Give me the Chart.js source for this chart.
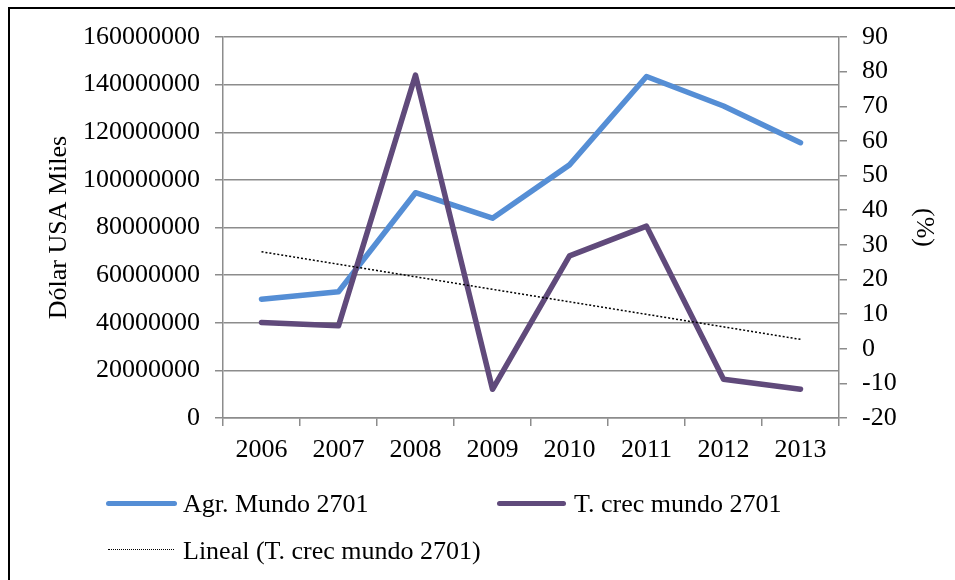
<!DOCTYPE html>
<html>
<head>
<meta charset="utf-8">
<script src="https://cdn.jsdelivr.net/npm/chart.js@4.4.0/dist/chart.umd.min.js"></script>
<style>
  html, body { margin: 0; padding: 0; background: #fff; overflow: hidden; }
  #marco { position: absolute; left: 8px; top: 7px; width: 980px; height: 620px; border: 2px solid #000; }
  #lienzo { position: absolute; left: 0; top: 0; }
  .leyenda { position: absolute; font-family: 'Liberation Serif', 'Times New Roman', serif; font-size: 26px; line-height: 30px; color: #000; white-space: nowrap; }
  .linea { position: absolute; height: 5px; border-radius: 3px; }
  .punteada { position: absolute; height: 0; border-top: 1.5px dotted #000; }
</style>
</head>
<body>
<div id="marco"></div>
<canvas id="lienzo" width="955" height="580"></canvas>
<div class="linea" style="left:106px; top:501px; width:71px; background:#558ed5;"></div>
<div class="leyenda" style="left:183px; top:489px;">Agr. Mundo 2701</div>
<div class="linea" style="left:497px; top:501px; width:69px; background:#604a7b;"></div>
<div class="leyenda" style="left:574px; top:489px;">T. crec mundo 2701</div>
<div class="punteada" style="left:108px; top:549px; width:66px;"></div>
<div class="leyenda" style="left:183px; top:536px;">Lineal (T. crec mundo 2701)</div>
<script>
// años del eje x
const anios = ['2006', '2007', '2008', '2009', '2010', '2011', '2012', '2013'];
// Agr. Mundo 2701 (dólar USA miles)
const agrMundo = [49900000, 53000000, 94600000, 83900000, 106300000, 143400000, 131000000, 115600000];
// T. crec mundo 2701 (%)
const tCrec = [7.6, 6.6, 79.0, -11.7, 26.8, 35.4, -8.8, -11.7];
// línea de tendencia: solo los extremos
const tendencia = [28.0, null, null, null, null, null, null, 2.7];

const fuente = { family: "'Liberation Serif', 'Times New Roman', serif", size: 26 };
const gris = '#8c8c8c';

document.addEventListener('DOMContentLoaded', () => {
    const ctx = document.getElementById('lienzo').getContext('2d');
    const grafico = new Chart(ctx, {
        type: 'line',
        data: {
            labels: anios,
            datasets: [
                {
                    label: 'Lineal (T. crec mundo 2701)',
                    data: tendencia,
                    yAxisID: 'y1',
                    borderColor: '#000',
                    borderWidth: 1.5,
                    borderDash: [2, 2],
                    pointRadius: 0,
                    spanGaps: true,
                    order: 0
                },
                {
                    label: 'T. crec mundo 2701',
                    data: tCrec,
                    yAxisID: 'y1',
                    borderColor: '#604a7b',
                    borderWidth: 5.5,
                    borderJoinStyle: 'round',
                    borderCapStyle: 'round',
                    pointRadius: 0,
                    tension: 0,
                    order: 1
                },
                {
                    label: 'Agr. Mundo 2701',
                    data: agrMundo,
                    yAxisID: 'y',
                    borderColor: '#558ed5',
                    borderWidth: 5.5,
                    borderJoinStyle: 'round',
                    borderCapStyle: 'round',
                    pointRadius: 0,
                    tension: 0,
                    order: 2
                }
            ]
        },
        options: {
            responsive: false,
            animation: false,
            devicePixelRatio: 1,
            layout: { padding: { top: 37, left: 0, right: 0, bottom: 0 } },
            plugins: {
                legend: { display: false },
                tooltip: { enabled: false }
            },
            scales: {
                x: {
                    offset: true,
                    afterFit: s => { s.height = 162; },
                    grid: { offset: true, drawOnChartArea: false, drawTicks: true, tickLength: 8, color: gris, lineWidth: 1.5 },
                    border: { display: true, color: gris, width: 1.5 },
                    ticks: { color: '#000', font: fuente, padding: 9, maxRotation: 0 }
                },
                y: {
                    position: 'left',
                    min: 0,
                    max: 160000000,
                    afterFit: s => { s.width = 223; },
                    grid: { color: gris, lineWidth: 1.5, tickLength: 8 },
                    border: { display: true, color: gris, width: 1.5 },
                    ticks: {
                        stepSize: 20000000,
                        color: '#000',
                        font: fuente,
                        padding: 15,
                        callback: v => String(v)
                    },
                    title: {
                        display: true,
                        text: 'Dólar USA Miles',
                        color: '#000',
                        font: { family: fuente.family, size: 26, lineHeight: 1.2 },
                        padding: { top: 44, bottom: 0 }
                    }
                },
                y1: {
                    position: 'right',
                    min: -20,
                    max: 90,
                    afterFit: s => { s.width = 116; },
                    grid: { drawOnChartArea: false, color: gris, lineWidth: 1.5, tickLength: 8 },
                    border: { display: true, color: gris, width: 1.5 },
                    ticks: { stepSize: 10, color: '#000', font: fuente, padding: 15 },
                    title: {
                        display: true,
                        text: '(%)',
                        color: '#000',
                        font: { family: fuente.family, size: 26, lineHeight: 1.2 },
                        padding: { top: 16, bottom: 0 }
                    }
                }
            }
        }
    });
});
</script>
</body>
</html>
